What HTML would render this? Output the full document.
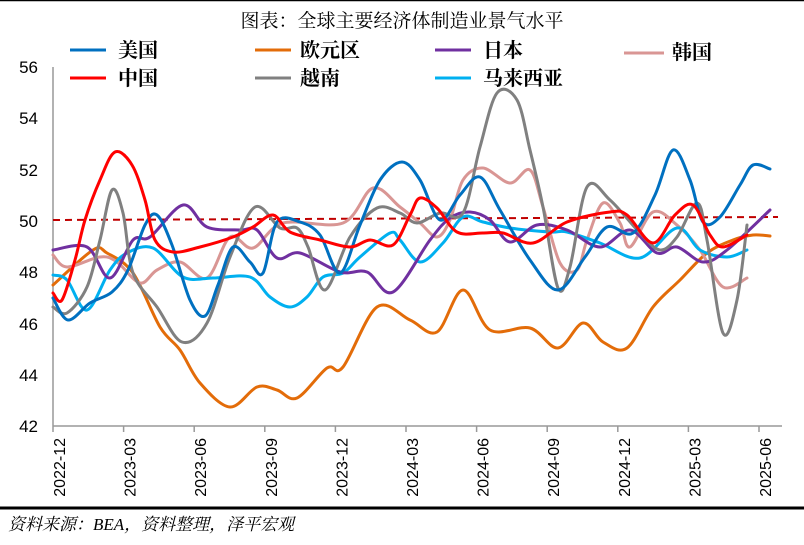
<!DOCTYPE html>
<html><head><meta charset="utf-8">
<style>
body{margin:0;background:#fff;}
svg{display:block;}
</style></head>
<body>
<svg id="s" width="804" height="545" xmlns="http://www.w3.org/2000/svg">
<rect width="804" height="545" fill="#fff"/>
<line x1="0" y1="0.5" x2="804" y2="0.5" stroke="#000" stroke-width="1.5"/>
<text x="402" y="27" text-anchor="middle" font-size="19" font-family="Liberation Serif, Noto Serif CJK SC, serif">图表：全球主要经济体制造业景气水平</text>
<g font-family="Liberation Sans, sans-serif" font-size="17" text-anchor="end" fill="#000">
<text x="38" y="73">56</text><text x="38" y="124">54</text><text x="38" y="176">52</text>
<text x="38" y="227">50</text><text x="38" y="278">48</text><text x="38" y="330">46</text>
<text x="38" y="381">44</text><text x="38" y="432">42</text>
</g>
<line x1="53" y1="67" x2="53" y2="426" stroke="#999" stroke-width="1.5"/>
<line x1="53" y1="426" x2="782" y2="426" stroke="#999" stroke-width="1.5"/>
<g id="ticks" stroke="#999" stroke-width="1.5"></g>
<g id="xl" font-family="Liberation Sans, sans-serif" font-size="16" fill="#000"></g>
<line x1="53" y1="220" x2="778" y2="217" stroke="#c00000" stroke-width="2" stroke-dasharray="7,5"/>
<g id="lines" fill="none" stroke-width="3" stroke-linejoin="round" stroke-linecap="round"></g>
<g font-family="Noto Serif CJK SC, serif" font-weight="bold" font-size="20" fill="#000">
<line x1="70" y1="50" x2="106" y2="50" stroke="#0070c0" stroke-width="3"/><text x="118" y="57">美国</text>
<line x1="255" y1="50" x2="291" y2="50" stroke="#e36c09" stroke-width="3"/><text x="300" y="57">欧元区</text>
<line x1="435" y1="50" x2="471" y2="50" stroke="#7030a0" stroke-width="3"/><text x="483" y="57">日本</text>
<line x1="624" y1="53" x2="664" y2="53" stroke="#d99694" stroke-width="3"/><text x="672" y="59">韩国</text>
<line x1="70" y1="78" x2="106" y2="78" stroke="#ff0000" stroke-width="3"/><text x="118" y="85">中国</text>
<line x1="255" y1="78" x2="291" y2="78" stroke="#808080" stroke-width="3"/><text x="300" y="85">越南</text>
<line x1="435" y1="78" x2="471" y2="78" stroke="#00b0f0" stroke-width="3"/><text x="483" y="85">马来西亚</text>
</g>
<line x1="0" y1="508" x2="804" y2="508" stroke="#000" stroke-width="3"/>
<text x="8" y="530" font-size="17" font-style="italic" font-family="Liberation Serif, Noto Serif CJK SC, serif">资料来源：BEA，资料整理，泽平宏观</text>
</svg>
<script>
var ns="http://www.w3.org/2000/svg";
var labels=["2022-12","2023-03","2023-06","2023-09","2023-12","2024-03","2024-06","2024-09","2024-12","2025-03","2025-06"];
var tg=document.getElementById("ticks"),xl=document.getElementById("xl");
for(var k=0;k<11;k++){var x=53+k*70.6;
var l=document.createElementNS(ns,"line");l.setAttribute("x1",x);l.setAttribute("x2",x);l.setAttribute("y1",426);l.setAttribute("y2",432);tg.appendChild(l);
var t=document.createElementNS(ns,"text");t.setAttribute("transform","translate("+(x+12)+",438) rotate(-90)");t.setAttribute("text-anchor","end");t.textContent=labels[k];xl.appendChild(t);}
function path(p){var d="M"+p[0][0]+","+p[0][1];
for(var i=0;i<p.length-1;i++){var p0=p[i-1]||p[i],p1=p[i],p2=p[i+1],p3=p[i+2]||p2;
d+=" C"+(p1[0]+(p2[0]-p0[0])/6)+","+(p1[1]+(p2[1]-p0[1])/6)+" "+(p2[0]-(p3[0]-p1[0])/6)+","+(p2[1]-(p3[1]-p1[1])/6)+" "+p2[0]+","+p2[1];}
return d;}
var S=[
["#e36c09",[[53,285],[93,250],[107,253],[133,273],[160,327],[180,350],[200,383],[230,407],[257,387],[277,390],[297,398],[327,368],[343,367],[377,307],[410,320],[437,332],[463,290],[490,330],[530,328],[558,348],[583,323],[603,342],[627,348],[653,307],[680,280],[707,253],[733,240],[753,235],[770,236]]],
["#d99694",[[53,255],[67,267],[100,257],[117,262],[140,283],[157,270],[180,262],[207,278],[230,237],[253,248],[283,223],[343,223],[373,188],[400,207],[420,223],[437,237],[450,220],[463,180],[483,168],[510,183],[530,170],[543,207],[560,263],[577,270],[587,240],[603,203],[620,223],[630,247],[653,212],[677,225],[700,250],[723,287],[747,278]]],
["#00b0f0",[[53,275],[67,280],[87,310],[110,270],[127,253],[153,248],[183,277],[213,278],[250,277],[270,297],[290,307],[307,297],[323,277],[343,273],[360,257],[390,233],[400,240],[420,262],[443,243],[463,217],[483,222],[510,228],[550,232],[567,232],[600,243],[640,258],[677,228],[700,250],[727,257],[747,250]]],
["#7030a0",[[53,250],[87,247],[110,278],[133,240],[150,237],[183,205],[207,227],[240,230],[257,230],[277,258],[300,253],[340,272],[367,272],[393,292],[430,240],[450,218],[470,212],[490,220],[510,242],[537,225],[567,230],[600,247],[630,230],[657,253],[677,247],[703,262],[727,250],[770,210]]],
["#808080",[[53,307],[67,313],[87,287],[100,240],[112,190],[123,213],[133,273],[157,307],[182,342],[207,323],[230,257],[255,207],[280,228],[297,228],[308,247],[325,290],[350,237],[377,208],[400,213],[417,223],[440,213],[463,213],[480,147],[497,93],[517,100],[530,150],[543,207],[558,288],[570,267],[587,187],[610,200],[640,233],[660,250],[677,237],[697,203],[707,240],[723,333],[737,300],[747,225]]],
["#0070c0",[[53,298],[68,320],[90,303],[112,292],[128,270],[145,225],[157,215],[172,245],[190,300],[205,316],[218,285],[233,247],[250,262],[263,273],[277,222],[300,222],[320,235],[340,273],[360,225],[380,180],[402,162],[420,180],[440,220],[460,195],[480,177],[500,210],[530,260],[558,290],[585,257],[607,227],[633,233],[655,195],[673,150],[690,180],[703,222],[720,217],[740,185],[753,165],[770,169]]],
["#ff0000",[[53,293],[62,300],[75,260],[85,220],[100,180],[115,152],[132,165],[145,200],[155,240],[173,252],[200,247],[233,237],[253,227],[273,215],[290,232],[320,240],[350,247],[370,240],[393,245],[410,215],[420,198],[437,208],[457,232],[483,233],[503,233],[533,243],[567,222],[610,212],[627,215],[653,243],[675,215],[693,205],[710,235],[723,247],[747,235]]]
];
var g=document.getElementById("lines");
S.forEach(function(s){var p=document.createElementNS(ns,"path");p.setAttribute("d",path(s[1]));p.setAttribute("stroke",s[0]);g.appendChild(p);});
</script>
</body></html>
